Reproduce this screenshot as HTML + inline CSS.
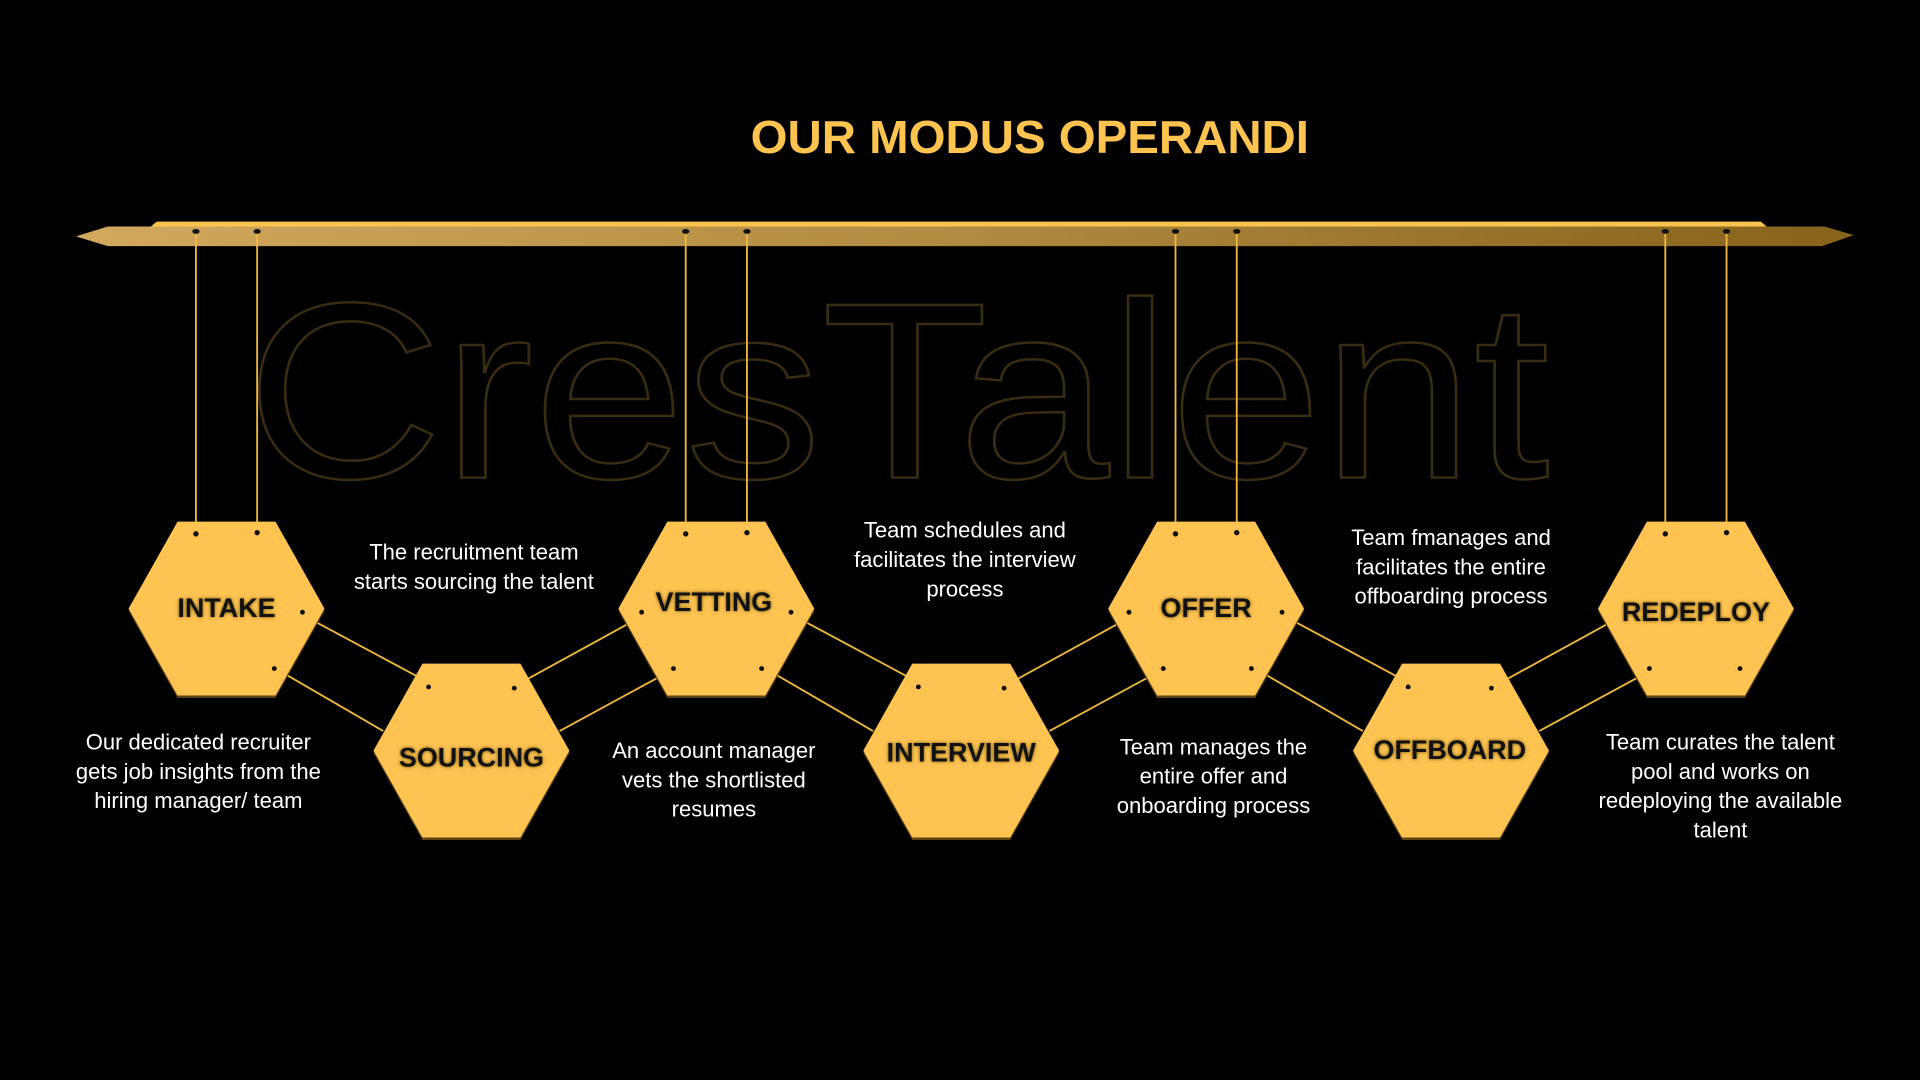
<!DOCTYPE html>
<html><head><meta charset="utf-8"><style>
html,body{margin:0;padding:0;background:#000;}
svg{display:block;}
.d{font-family:"Liberation Sans",sans-serif;font-size:18px;fill:#fff;text-anchor:middle;}
.l{font-family:"Liberation Sans",sans-serif;font-weight:bold;font-size:22px;fill:#111;text-anchor:middle;}
</style></head><body>
<svg width="1920" height="1080" viewBox="0 0 1568 882" preserveAspectRatio="none" xmlns="http://www.w3.org/2000/svg">
<defs>
<linearGradient id="bar" x1="0" x2="1" y1="0" y2="0">
<stop offset="0" stop-color="#d2a95e"/><stop offset="0.5" stop-color="#b08a40"/><stop offset="1" stop-color="#86621a"/>
</linearGradient>
<filter id="sh" x="-20%" y="-20%" width="140%" height="140%"><feGaussianBlur stdDeviation="1.5"/></filter>
</defs>
<rect width="1568" height="882" fill="#000"/>
<text x="733" y="390" font-family="Liberation Sans,sans-serif" font-size="205" fill="none" stroke="#3a2c12" stroke-width="2" text-anchor="middle" textLength="1065" lengthAdjust="spacingAndGlyphs">CresTalent</text>
<text x="841" y="125" font-family="Liberation Sans,sans-serif" font-weight="bold" font-size="38" fill="#ffc34f" text-anchor="middle" textLength="456" lengthAdjust="spacingAndGlyphs">OUR MODUS OPERANDI</text>
<polygon points="128,181 1438,181 1444,186 122,186" fill="#ffc34f"/>
<polygon points="62,193 88,185 1490,185 1514,192 1488,201 88,201" fill="url(#bar)"/>
<g stroke="#f0b840" stroke-width="1.5">
<line x1="160" y1="190" x2="160" y2="432"/><line x1="210" y1="190" x2="210" y2="432"/>
<line x1="560" y1="190" x2="560" y2="432"/><line x1="610" y1="190" x2="610" y2="432"/>
<line x1="960" y1="190" x2="960" y2="432"/><line x1="1010" y1="190" x2="1010" y2="432"/>
<line x1="1360" y1="190" x2="1360" y2="432"/><line x1="1410" y1="190" x2="1410" y2="432"/>
<line x1="258" y1="508" x2="340" y2="552"/><line x1="232" y1="550" x2="313" y2="597"/>
<line x1="430" y1="555" x2="512" y2="510"/><line x1="457" y1="597" x2="538" y2="553"/>
<line x1="658" y1="508" x2="740" y2="552"/><line x1="632" y1="550" x2="713" y2="597"/>
<line x1="830" y1="555" x2="912" y2="510"/><line x1="857" y1="597" x2="938" y2="553"/>
<line x1="1058" y1="508" x2="1140" y2="552"/><line x1="1032" y1="550" x2="1113" y2="597"/>
<line x1="1230" y1="555" x2="1312" y2="510"/><line x1="1257" y1="597" x2="1338" y2="553"/>
</g>
<g>
<g transform="translate(185,497)"><polygon points="-40,-69 40,-69 80,2 40,73 -40,73 -80,2" fill="#5a4214"/><polygon points="-40,-71 40,-71 80,0 40,71 -40,71 -80,0" fill="#fec351"/></g>
<g transform="translate(385,613)"><polygon points="-40,-69 40,-69 80,2 40,73 -40,73 -80,2" fill="#5a4214"/><polygon points="-40,-71 40,-71 80,0 40,71 -40,71 -80,0" fill="#fec351"/></g>
<g transform="translate(585,497)"><polygon points="-40,-69 40,-69 80,2 40,73 -40,73 -80,2" fill="#5a4214"/><polygon points="-40,-71 40,-71 80,0 40,71 -40,71 -80,0" fill="#fec351"/></g>
<g transform="translate(785,613)"><polygon points="-40,-69 40,-69 80,2 40,73 -40,73 -80,2" fill="#5a4214"/><polygon points="-40,-71 40,-71 80,0 40,71 -40,71 -80,0" fill="#fec351"/></g>
<g transform="translate(985,497)"><polygon points="-40,-69 40,-69 80,2 40,73 -40,73 -80,2" fill="#5a4214"/><polygon points="-40,-71 40,-71 80,0 40,71 -40,71 -80,0" fill="#fec351"/></g>
<g transform="translate(1185,613)"><polygon points="-40,-69 40,-69 80,2 40,73 -40,73 -80,2" fill="#5a4214"/><polygon points="-40,-71 40,-71 80,0 40,71 -40,71 -80,0" fill="#fec351"/></g>
<g transform="translate(1385,497)"><polygon points="-40,-69 40,-69 80,2 40,73 -40,73 -80,2" fill="#5a4214"/><polygon points="-40,-71 40,-71 80,0 40,71 -40,71 -80,0" fill="#fec351"/></g>
</g>
<g fill="#111">
<ellipse cx="160" cy="189" rx="3" ry="2"/><ellipse cx="210" cy="189" rx="3" ry="2"/>
<ellipse cx="560" cy="189" rx="3" ry="2"/><ellipse cx="610" cy="189" rx="3" ry="2"/>
<ellipse cx="960" cy="189" rx="3" ry="2"/><ellipse cx="1010" cy="189" rx="3" ry="2"/>
<ellipse cx="1360" cy="189" rx="3" ry="2"/><ellipse cx="1410" cy="189" rx="3" ry="2"/>
<circle cx="160" cy="436" r="2.2"/><circle cx="210" cy="435" r="2.2"/><circle cx="247" cy="500" r="2"/><circle cx="224" cy="546" r="2"/>
<circle cx="560" cy="436" r="2.2"/><circle cx="610" cy="435" r="2.2"/><circle cx="524" cy="500" r="2"/><circle cx="646" cy="500" r="2"/><circle cx="550" cy="546" r="2"/><circle cx="622" cy="546" r="2"/>
<circle cx="960" cy="436" r="2.2"/><circle cx="1010" cy="435" r="2.2"/><circle cx="922" cy="500" r="2"/><circle cx="1047" cy="500" r="2"/><circle cx="950" cy="546" r="2"/><circle cx="1022" cy="546" r="2"/>
<circle cx="1360" cy="436" r="2.2"/><circle cx="1410" cy="435" r="2.2"/><circle cx="1347" cy="546" r="2"/><circle cx="1421" cy="546" r="2"/>
<circle cx="350" cy="561" r="2"/><circle cx="420" cy="562" r="2"/><circle cx="750" cy="561" r="2"/><circle cx="820" cy="562" r="2"/><circle cx="1150" cy="561" r="2"/><circle cx="1218" cy="562" r="2"/>
</g>
<g class="l">
<text x="185" y="504" fill="#6a4d10" filter="url(#sh)">INTAKE</text><text x="185" y="504">INTAKE</text>
<text x="385" y="626" fill="#6a4d10" filter="url(#sh)">SOURCING</text><text x="385" y="626">SOURCING</text>
<text x="583" y="499" fill="#6a4d10" filter="url(#sh)">VETTING</text><text x="583" y="499">VETTING</text>
<text x="785" y="622" fill="#6a4d10" filter="url(#sh)">INTERVIEW</text><text x="785" y="622">INTERVIEW</text>
<text x="985" y="504" fill="#6a4d10" filter="url(#sh)">OFFER</text><text x="985" y="504">OFFER</text>
<text x="1184" y="620" fill="#6a4d10" filter="url(#sh)">OFFBOARD</text><text x="1184" y="620">OFFBOARD</text>
<text x="1385" y="507" fill="#6a4d10" filter="url(#sh)">REDEPLOY</text><text x="1385" y="507">REDEPLOY</text>
</g>
<g class="d">
<text x="162" y="612">Our dedicated recruiter</text><text x="162" y="636">gets job insights from the</text><text x="162" y="660">hiring manager/ team</text>
<text x="387" y="457">The recruitment team</text><text x="387" y="481">starts sourcing the talent</text>
<text x="583" y="619">An account manager</text><text x="583" y="643">vets the shortlisted</text><text x="583" y="667">resumes</text>
<text x="788" y="439">Team schedules and</text><text x="788" y="463">facilitates the interview</text><text x="788" y="487">process</text>
<text x="991" y="616">Team manages the</text><text x="991" y="640">entire offer and</text><text x="991" y="664">onboarding process</text>
<text x="1185" y="445">Team fmanages and</text><text x="1185" y="469">facilitates the entire</text><text x="1185" y="493">offboarding process</text>
<text x="1405" y="612">Team curates the talent</text><text x="1405" y="636">pool and works on</text><text x="1405" y="660">redeploying the available</text><text x="1405" y="684">talent</text>
</g>
</svg>
</body></html>
